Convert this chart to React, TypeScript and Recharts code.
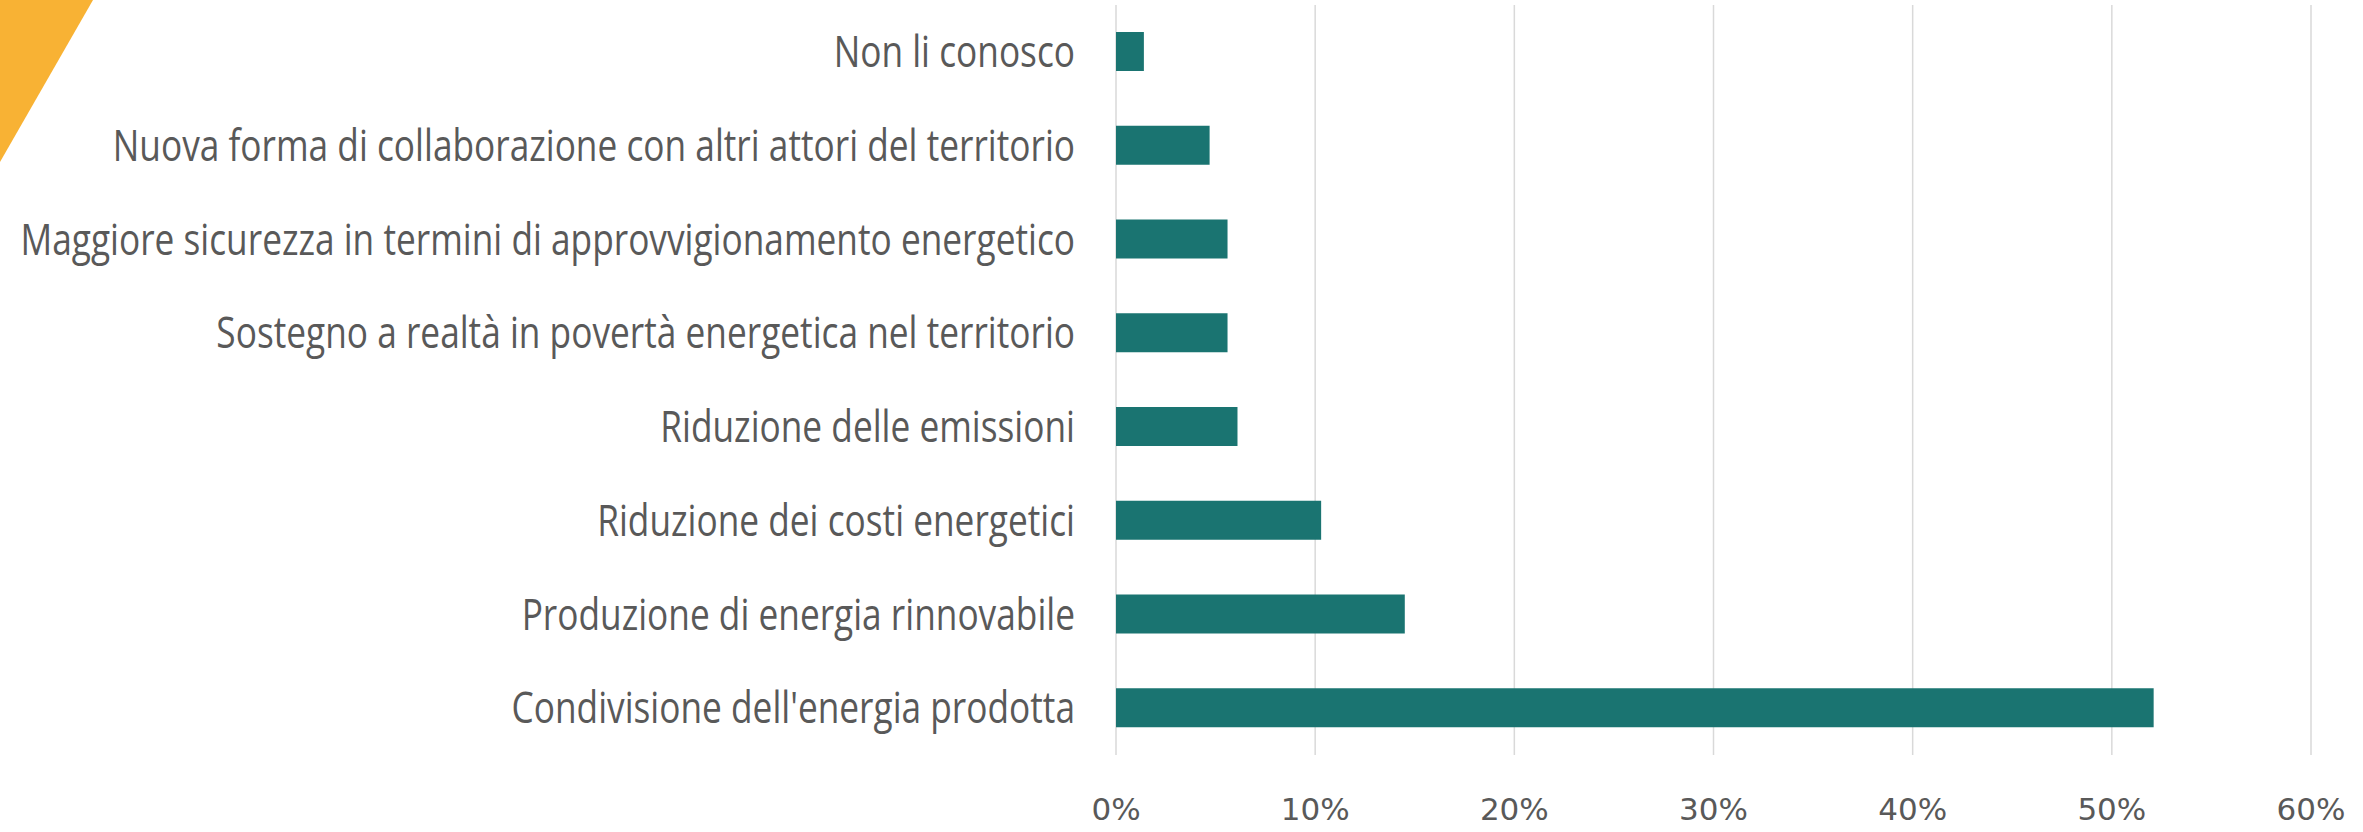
import React from "react";
import { BarChart, Bar, XAxis, YAxis, CartesianGrid } from "recharts";

const categories = [
  "Non li conosco",
  "Nuova forma di collaborazione con altri attori del territorio",
  "Maggiore sicurezza in termini di approvvigionamento energetico",
  "Sostegno a realtà in povertà energetica nel territorio",
  "Riduzione delle emissioni",
  "Riduzione dei costi energetici",
  "Produzione di energia rinnovabile",
  "Condivisione dell'energia prodotta",
];
const shares = [1.4, 4.7, 5.6, 5.6, 6.1, 10.3, 14.5, 52.1];
const xTicks = [0, 10, 20, 30, 40, 50, 60];

const data = categories.map((name, i) => ({ name, value: shares[i] }));

// the labels in the original use a narrow font, so squeeze Open Sans a bit
const NarrowTick = (props: any) => {
  const { x, y, payload } = props;
  return (
    <text
      x={x}
      y={y}
      dy="0.355em"
      textAnchor="end"
      fill="#595959"
      fontSize={43}
      fontFamily="Open Sans"
      transform={`translate(${x},${y}) scale(0.82,1) translate(${-x},${-y})`}
    >
      {payload.value}
    </text>
  );
};

const App: React.FC = () => {
  return (
    <div style={{ position: "absolute", left: 0, top: 0, width: 2363, height: 832, background: "#fff" }}>
      <svg width={2363} height={832} style={{ position: "absolute", left: 0, top: 0 }}>
        <polygon points="0,0 93,0 0,162" fill="#F8B234" />
      </svg>
      <div style={{ position: "absolute", left: 0, top: 0 }}>
        <BarChart
          width={2363}
          height={832}
          data={data}
          layout="vertical"
          margin={{ top: 5, right: 52, bottom: 0, left: 0 }}
          barSize={39}
        >
          <CartesianGrid horizontal={false} stroke="#d9d9d9" strokeWidth={1.5} />
          <XAxis
            type="number"
            domain={[0, 60]}
            ticks={xTicks}
            tickFormatter={(v: number) => `${v}%`}
            axisLine={false}
            tickLine={false}
            tickSize={0}
            tickMargin={43}
            height={77}
            interval={0}
            tick={{ fill: "#595959", fontSize: 31, fontFamily: "DejaVu Sans" }}
          />
          <YAxis
            type="category"
            dataKey="name"
            width={1116}
            axisLine={false}
            tickLine={false}
            tickSize={0}
            tickMargin={41}
            interval={0}
            tick={<NarrowTick />}
          />
          <Bar dataKey="value" fill="#1a7471" isAnimationActive={false} />
        </BarChart>
      </div>
    </div>
  );
};

export default App;
